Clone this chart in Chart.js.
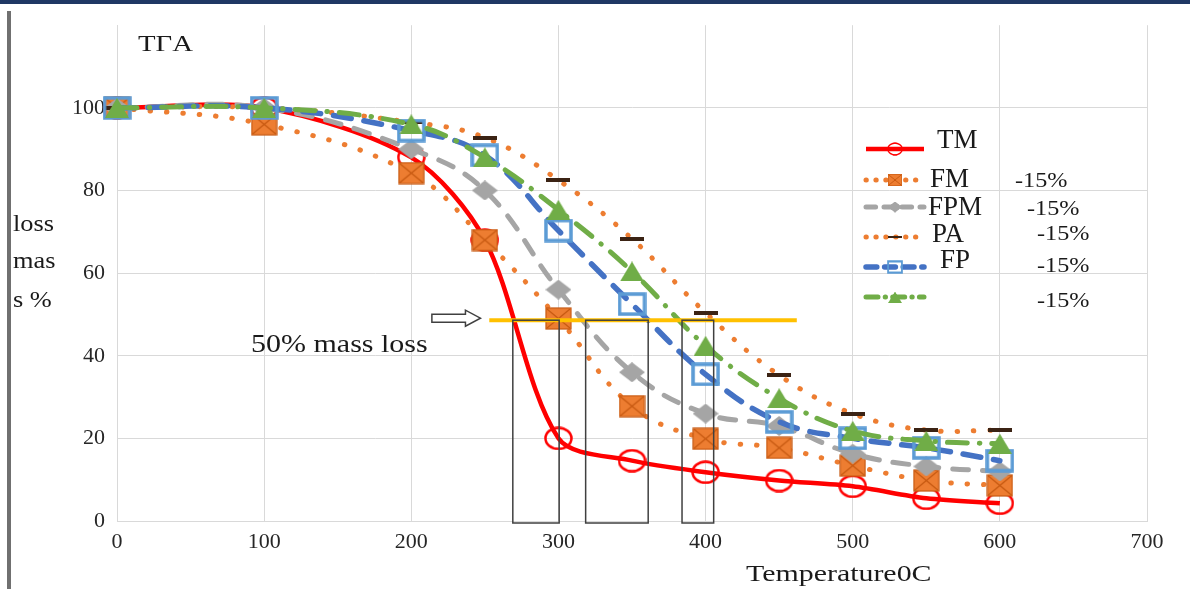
<!DOCTYPE html>
<html>
<head>
<meta charset="utf-8">
<title>TGA</title>
<script src="https://cdn.jsdelivr.net/npm/chart.js@4.4.0/dist/chart.umd.min.js"></script>
<style>
  html, body { margin: 0; padding: 0; background: #fff; }
  #wrap { position: relative; width: 1190px; height: 589px; }
</style>
</head>
<body>
<div id="wrap"><canvas id="tgaChart" width="1190" height="589"></canvas></div>
<script>
// data
const temps = [0, 100, 200, 250, 300, 350, 400, 450, 500, 550, 600];
const tmValues = [100, 100, 88, 68, 20, 14.6, 11.8, 9.8, 8.4, 5.5, 4.3];
const fmValues = [100, 96, 84.2, 68, 49, 27.8, 19.9, 17.7, 13.4, 9.8, 8.6];
const fpmValues = [100, 100, 90, 80, 56, 36, 26, 23, 16.3, 13.2, 12];
const paValues = [100, 100, 96.5, 92.8, 82.5, 68.3, 50.4, 35.3, 26, 22, 22];
const fpValues = [100, 100, 94.5, 88.5, 70.3, 52.5, 35.5, 24, 20, 17.7, 14.6];
const grValues = [100, 100, 96, 88, 75.3, 60.4, 42.4, 29.7, 21.8, 19.4, 18.7];

const xTicks = [0, 100, 200, 300, 400, 500, 600, 700];
const yTicks = [0, 20, 40, 60, 80, 100];
const seriesNames = ["TM", "FM", "FPM", "PA", "FP", ""];
const seriesSuffix = ["", "-15%", "-15%", "-15%", "-15%", "-15%"];

// annotation values (data units)
const halfLossLevel = 48.6;
const halfLossSpan = [253, 462];
const boxRanges = [[269, 300.5], [318.5, 361], [384, 405.5]];
const arrowSpan = [214, 247];

function makeMarker(w, h, paint) {
  const c = document.createElement("canvas");
  c.width = w;
  c.height = h;
  paint(c.getContext("2d"), w, h);
  return c;
}

const tmMarker = makeMarker(29, 24, (g, w, h) => {
  g.strokeStyle = "#ff0000";
  g.lineWidth = 2.5;
  g.beginPath();
  g.ellipse(w / 2, h / 2, w / 2 - 1.5, h / 2 - 1.5, 0, 0, Math.PI * 2);
  g.stroke();
});
const fmMarker = makeMarker(27, 23, (g, w, h) => {
  g.fillStyle = "#ed7d31";
  g.fillRect(1, 1, w - 2, h - 2);
  g.strokeStyle = "#c65911";
  g.lineWidth = 1.2;
  g.strokeRect(1, 1, w - 2, h - 2);
  g.beginPath();
  g.moveTo(2, 2); g.lineTo(w - 2, h - 2);
  g.moveTo(w - 2, 2); g.lineTo(2, h - 2);
  g.stroke();
});
const fpmMarker = makeMarker(26, 20, (g, w, h) => {
  g.fillStyle = "#a5a5a5";
  g.beginPath();
  g.moveTo(w / 2, 0); g.lineTo(w, h / 2); g.lineTo(w / 2, h); g.lineTo(0, h / 2);
  g.closePath();
  g.fill();
});
const paMarker = makeMarker(24, 4, (g, w, h) => {
  g.fillStyle = "#3b2314";
  g.fillRect(0, 0, w, h);
});
const fpMarker = makeMarker(29, 24, (g, w, h) => {
  g.strokeStyle = "#5b9bd5";
  g.lineWidth = 3.5;
  g.strokeRect(2, 2, w - 4, h - 4);
});
const grMarker = makeMarker(24, 20, (g, w, h) => {
  g.fillStyle = "#70ad47";
  g.beginPath();
  g.moveTo(w / 2, 0); g.lineTo(w, h); g.lineTo(0, h);
  g.closePath();
  g.fill();
});

function series(label, values, color, width, dash, marker, order, tension) {
  return {
    label,
    data: temps.map((t, i) => ({ x: t, y: values[i] })),
    borderColor: color,
    backgroundColor: color,
    borderWidth: width,
    borderDash: dash,
    borderCapStyle: dash.length ? "round" : "butt",
    pointStyle: marker,
    pointRadius: 10,
    pointHoverRadius: 10,
    tension: tension || 0.4,
    clip: false,
    order,
  };
}

const datasets = [
  series("TM", tmValues, "#ff0000", 4.5, [], tmMarker, 5, 0.3),
  series("FM", fmValues, "#ed7d31", 5, [0.5, 16], fmMarker, 4),
  series("FPM", fpmValues, "#a5a5a5", 5, [16, 14], fpmMarker, 3),
  series("PA", paValues, "#ed7d31", 5, [0.5, 16], paMarker, 2),
  series("FP", fpValues, "#4472c4", 5.5, [18, 13], fpMarker, 1),
  series("", grValues, "#70ad47", 5, [20, 12, 0.5, 12], grMarker, 0),
];

const serif = '"Liberation Serif", "DejaVu Serif", serif';

function stretchText(ctx, text, x, y, size, sx) {
  ctx.save();
  ctx.font = size + "px " + serif;
  ctx.textBaseline = "alphabetic";
  ctx.textAlign = "left";
  ctx.translate(x, y);
  ctx.scale(sx, 1);
  ctx.fillText(text, 0, 0);
  ctx.restore();
}

const legendRows = [149, 180, 207, 237, 267, 297];
const legendNameX = [937, 930, 928, 932, 940, 0];
const legendNameY = [148, 187, 215, 242, 268, 0];
const legendSuffixX = [0, 1015, 1027, 1037, 1037, 1037];
const legendSuffixY = [0, 187, 215, 240, 272, 307];

const framePlugin = {
  id: "frame",
  beforeDraw(chart) {
    const ctx = chart.ctx;
    ctx.save();
    ctx.fillStyle = "#ffffff";
    ctx.fillRect(0, 0, chart.width, chart.height);
    ctx.fillStyle = "#1f3864";
    ctx.fillRect(0, 0, chart.width, 4);
    ctx.fillStyle = "#707070";
    ctx.fillRect(7, 11, 4, chart.height - 11);
    ctx.restore();
  },
};

const notesPlugin = {
  id: "notes",
  afterDatasetsDraw(chart) {
    const ctx = chart.ctx;
    const xs = chart.scales.x;
    const ys = chart.scales.y;
    const yLevel = ys.getPixelForValue(halfLossLevel);
    const yZero = ys.getPixelForValue(0);

    ctx.save();
    // 50% level line
    ctx.strokeStyle = "#ffc000";
    ctx.lineWidth = 4;
    ctx.beginPath();
    ctx.moveTo(xs.getPixelForValue(halfLossSpan[0]), yLevel);
    ctx.lineTo(xs.getPixelForValue(halfLossSpan[1]), yLevel);
    ctx.stroke();

    // boxes
    ctx.strokeStyle = "#404040";
    ctx.lineWidth = 1.5;
    boxRanges.forEach(([a, b]) => {
      const x0 = xs.getPixelForValue(a);
      const x1 = xs.getPixelForValue(b);
      ctx.strokeRect(x0, yLevel, x1 - x0, yZero - yLevel + 2);
    });

    // hollow arrow
    const ax0 = xs.getPixelForValue(arrowSpan[0]);
    const ax1 = xs.getPixelForValue(arrowSpan[1]);
    const ay = yLevel - 2;
    const headLen = 15;
    ctx.fillStyle = "#ffffff";
    ctx.strokeStyle = "#404040";
    ctx.lineWidth = 1.5;
    ctx.beginPath();
    ctx.moveTo(ax0, ay - 4);
    ctx.lineTo(ax1 - headLen, ay - 4);
    ctx.lineTo(ax1 - headLen, ay - 8);
    ctx.lineTo(ax1, ay);
    ctx.lineTo(ax1 - headLen, ay + 8);
    ctx.lineTo(ax1 - headLen, ay + 4);
    ctx.lineTo(ax0, ay + 4);
    ctx.closePath();
    ctx.fill();
    ctx.stroke();

    // texts
    ctx.fillStyle = "#1a1a1a";
    stretchText(ctx, "TΓA", 138, 51, 23, 1.25);
    stretchText(ctx, "50% mass loss", 251, 352, 25, 1.2);
    stretchText(ctx, "Temperature0C", 746, 581, 23, 1.3);
    stretchText(ctx, "loss", 13, 231, 24, 1.1);
    stretchText(ctx, "mas", 13, 268, 24, 1.1);
    stretchText(ctx, "s %", 13, 307, 24, 1.1);

    // legend
    chart.data.datasets.forEach((ds, i) => {
      const y = legendRows[i];
      ctx.save();
      ctx.strokeStyle = ds.borderColor;
      ctx.lineWidth = ds.borderWidth;
      ctx.lineCap = ds.borderCapStyle;
      ctx.setLineDash(ds.borderDash.map((d) => d * 0.6));
      ctx.beginPath();
      ctx.moveTo(866, y);
      ctx.lineTo(924, y);
      ctx.stroke();
      ctx.restore();
      const m = ds.pointStyle;
      const w = m.width * 0.55;
      const h = m.height * 0.55;
      ctx.drawImage(m, 895 - w / 2, y - h / 2, w, h);
      ctx.fillStyle = "#1a1a1a";
      if (seriesNames[i]) stretchText(ctx, seriesNames[i], legendNameX[i], legendNameY[i], 27, 1.0);
      if (seriesSuffix[i]) stretchText(ctx, seriesSuffix[i], legendSuffixX[i], legendSuffixY[i], 22, 1.1);
    });
    ctx.restore();
  },
};

new Chart(document.getElementById("tgaChart"), {
  type: "line",
  data: { datasets },
  options: {
    responsive: false,
    animation: false,
    events: [],
    layout: { padding: { top: 20, right: 43, left: 0, bottom: 0 } },
    plugins: {
      legend: { display: false },
      tooltip: { enabled: false },
    },
    scales: {
      x: {
        type: "linear",
        min: 0,
        max: 700,
        afterBuildTicks: (scale) => {
          scale.ticks = xTicks.map((v) => ({ value: v }));
        },
        afterFit: (scale) => {
          scale.height = 68;
        },
        ticks: {
          padding: 8,
          color: "#262626",
          font: { family: serif, size: 22 },
        },
        grid: { color: "#d9d9d9", lineWidth: 1, drawTicks: false },
        border: { color: "#d9d9d9" },
      },
      y: {
        min: 0,
        max: 120,
        afterBuildTicks: (scale) => {
          scale.ticks = yTicks.map((v) => ({ value: v }));
        },
        afterFit: (scale) => {
          scale.width = 117;
        },
        ticks: {
          padding: 12,
          color: "#262626",
          font: { family: serif, size: 22 },
        },
        grid: { color: "#d9d9d9", lineWidth: 1, drawTicks: false },
        border: { color: "#d9d9d9" },
      },
    },
  },
  plugins: [framePlugin, notesPlugin],
});
</script>
</body>
</html>
